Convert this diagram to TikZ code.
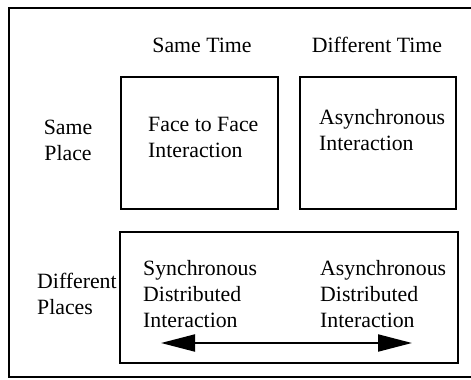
\documentclass[tikz,border=0pt]{standalone}
\usepackage{fontspec}
\setmainfont{Liberation Serif}
\usetikzlibrary{arrows.meta}
\begin{document}
\begin{tikzpicture}[x=1pt,y=-1pt,
  txt/.style={inner sep=0pt,font=\fontsize{21.8}{26}\selectfont,align=left},
  cell/.style={draw,line width=2pt},
  frame/.style={draw,line width=1.5pt}]
\useasboundingbox (0,0) rectangle (471,380);
\coordinate (ftr) at (471,8);
\coordinate (ftl) at (9,8);
\coordinate (fbl) at (9,377);
\coordinate (fbr) at (471,377);
\draw[frame] (ftr) -- (ftl) -- (fbl) -- (fbr);
\node[cell,minimum width=157pt,minimum height=132pt,anchor=north west] (ff) at (120,76) {};
\node[cell,minimum width=156pt,minimum height=132pt,anchor=north west] (as) at (299,76) {};
\node[cell,minimum width=338pt,minimum height=131pt,anchor=north west] (dist) at (119,231) {};
\node[txt] (st) at (202,45) {Same Time};
\node[txt] (dt) at (377,45) {Different Time};
\node[txt,align=center] (sp) at (68,140) {Same\\Place};
\node[txt,anchor=west] (dp) at (37,294) {Different\\Places};
\node[txt,anchor=west] (fft) at (148,137.5) {Face to Face\\Interaction};
\node[txt,anchor=west] (ast) at (319,130.5) {Asynchronous\\Interaction};
\node[txt,anchor=west] (sdi) at (143,294) {Synchronous\\Distributed\\Interaction};
\node[txt,anchor=west] (adi) at (320,294) {Asynchronous\\Distributed\\Interaction};
\coordinate (al) at (161,343);
\coordinate (ar) at (412,343);
\draw[line width=2pt,{Triangle[length=34pt,width=17pt]}-{Triangle[length=34pt,width=17pt]}] (al) -- (ar);
\end{tikzpicture}
\end{document}
